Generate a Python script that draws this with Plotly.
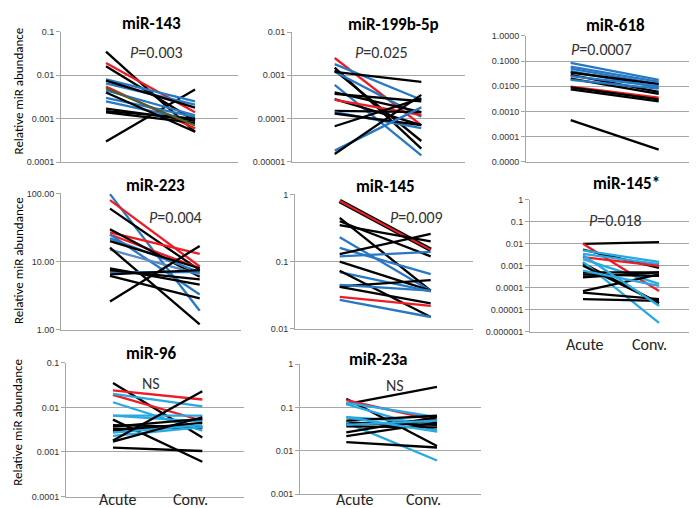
import math
import plotly.graph_objects as go

W, H = 697, 508
categories = ["Acute", "Conv."]

# ---- data ----
titles = ["miR-143", "miR-199b-5p", "miR-618", "miR-223", "miR-145", "miR-145*", "miR-96", "miR-23a"]
pvals = ["<i>P</i>=0.003", "<i>P</i>=0.025", "<i>P</i>=0.0007", "<i>P</i>=0.004",
         "<i>P</i>=0.009", "<i>P</i>=0.018", "NS", "NS"]

mir143_acute = [0.035, 0.016, 0.019, 0.0055, 0.0003, 0.008, 0.0065, 0.0075, 0.0045, 0.003, 0.0025, 0.004, 0.0017, 0.0015, 0.0014, 0.005]
mir143_conv = [0.0005, 0.0009, 0.0014, 0.0006, 0.0047, 0.0025, 0.0021, 0.0018, 0.0012, 0.0011, 0.0009, 0.0005, 0.0009, 0.001, 0.0008, 0.0007]
mir143_grp = ["K", "K", "R", "R", "K", "B", "B", "K", "B", "B", "B", "K", "K", "K", "K", "G"]

mir199_acute = [0.0025, 0.0018, 0.0015, 0.0013, 0.0012, 0.0012, 0.0006, 0.0004, 0.00037, 0.00028, 0.00027, 0.00015, 0.00014, 0.00013, 0.000066, 0.000018, 0.000015]
mir199_conv = [0.00007, 0.00027, 0.00002, 0.00003, 0.00011, 0.0007, 0.000014, 0.00014, 0.00025, 0.00007, 0.00012, 0.00014, 0.00006, 0.00007, 0.00029, 0.00018, 0.00035]
mir199_grp = ["R", "B", "K", "K", "B", "K", "B", "K", "K", "K", "R", "K", "B", "K", "K", "B", "K"]

mir618_acute = [0.085, 0.06, 0.05, 0.04, 0.035, 0.028, 0.025, 0.02, 0.018, 0.0095, 0.009, 0.0075, 0.00045]
mir618_conv = [0.018, 0.015, 0.012, 0.009, 0.012, 0.006, 0.01, 0.005, 0.008, 0.0035, 0.003, 0.0025, 0.00003]
mir618_grp = ["B", "B", "B", "B", "K", "K", "B", "K", "B", "R", "K", "K", "K"]

mir223_acute = [98, 80, 60, 27, 25, 30, 25, 22, 20, 15, 16, 8, 7, 6.5, 6.2, 2.6, 7.5]
mir223_conv = [1.9, 8.5, 7.5, 13, 8, 6, 3.3, 7, 8, 6.5, 1.2, 4.6, 7, 7.5, 2.9, 17, 5.5]
mir223_grp = ["B", "R", "K", "R", "R", "K", "B", "B", "K", "S", "K", "K", "B", "K", "K", "K", "K"]

mir145_acute = [0.8, 0.45, 0.35, 0.4, 0.23, 0.16, 0.13, 0.12, 0.1, 0.07, 0.073, 0.043, 0.045, 0.042, 0.03, 0.027]
mir145_conv = [0.15, 0.037, 0.2, 0.12, 0.037, 0.065, 0.26, 0.14, 0.037, 0.036, 0.015, 0.053, 0.037, 0.024, 0.022, 0.015]
mir145_grp = ["D", "K", "K", "K", "B", "B", "K", "B", "K", "B", "K", "K", "B", "K", "R", "B"]

mir145s_acute = [0.01, 0.01, 0.0055, 0.005, 0.0035, 0.0025, 0.002, 0.0013, 0.0015, 0.001, 0.0005, 0.0004, 0.0003, 0.00007, 0.00006, 0.00003, 0.003, 0.0006]
mir145s_conv = [0.012, 0.00007, 0.0008, 0.0015, 0.0012, 0.001, 0.00015, 0.00002, 0.0000025, 0.00002, 0.0005, 0.00035, 0.0005, 0.0004, 0.00003, 0.000025, 0.000015, 0.00012]
mir145s_grp = ["K", "R", "K", "C", "C", "R", "C", "K", "C", "K", "K", "K", "K", "K", "K", "K", "C", "C"]

mir96_acute = [0.035, 0.024, 0.019, 0.02, 0.013, 0.0065, 0.0065, 0.0053, 0.004, 0.0037, 0.0033, 0.003, 0.0027, 0.0023, 0.0018, 0.0017, 0.00125]
mir96_conv = [0.0021, 0.015, 0.005, 0.0105, 0.003, 0.0065, 0.0048, 0.0006, 0.0036, 0.0055, 0.0035, 0.0045, 0.004, 0.0036, 0.023, 0.006, 0.00105]
mir96_grp = ["K", "R", "R", "C", "C", "C", "C", "K", "K", "K", "K", "K", "C", "C", "K", "K", "K"]

mir23a_acute = [0.12, 0.16, 0.15, 0.13, 0.12, 0.06, 0.05, 0.045, 0.045, 0.04, 0.037, 0.027, 0.022, 0.016, 0.04, 0.06]
mir23a_conv = [0.3, 0.013, 0.05, 0.06, 0.03, 0.045, 0.065, 0.04, 0.006, 0.05, 0.035, 0.06, 0.045, 0.012, 0.05, 0.028]
mir23a_grp = ["K", "K", "R", "C", "C", "C", "K", "K", "C", "K", "K", "K", "K", "K", "C", "C"]

ytick_vals = [
    [0.0001, 0.001, 0.01, 0.1],
    [0.00001, 0.0001, 0.001, 0.01],
    [0.00001, 0.0001, 0.001, 0.01, 0.1, 1],
    [1, 10, 100],
    [0.01, 0.1, 1],
    [0.000001, 0.00001, 0.0001, 0.001, 0.01, 0.1, 1],
    [0.0001, 0.001, 0.01, 0.1],
    [0.001, 0.01, 0.1, 1],
]
ytick_text = [
    ["0.0001", "0.001", "0.01", "0.1"],
    ["0.00001", "0.0001", "0.001", "0.01"],
    ["0.0000", "0.0001", "0.0010", "0.0100", "0.1000", "1.0000"],
    ["1.00", "10.00", "100.00"],
    ["0.01", "0.1", "1"],
    ["0.000001", "0.00001", "0.0001", "0.001", "0.01", "0.1", "1"],
    ["0.0001", "0.001", "0.01", "0.1"],
    ["0.001", "0.01", "0.1", "1"],
]

panels_data = [
    (mir143_acute, mir143_conv, mir143_grp),
    (mir199_acute, mir199_conv, mir199_grp),
    (mir618_acute, mir618_conv, mir618_grp),
    (mir223_acute, mir223_conv, mir223_grp),
    (mir145_acute, mir145_conv, mir145_grp),
    (mir145s_acute, mir145s_conv, mir145s_grp),
    (mir96_acute, mir96_conv, mir96_grp),
    (mir23a_acute, mir23a_conv, mir23a_grp),
]

# ---- layout geometry (pixels) ----
# L, R, T, B, acute_x, conv_x
geom = [
    (53, 230, 19, 152.3, 98, 187),
    (284, 457, 19.3, 151.7, 326.7, 413.3),
    (518, 697, 23.3, 151.7, 562.7, 650.7),
    (53, 233, 184, 323.3, 102, 191.7),
    (287, 465, 185, 322.3, 331.7, 422.7),
    (522, 697, 190.7, 325, 575, 651),
    (58, 236, 356.7, 493.3, 105, 194.3),
    (292, 473, 358.3, 491, 338.3, 429),
]
title_pos = [(143, 11), (385, 12), (607, 13), (147, 176), (377, 177), (618, 174), (143, 347), (370, 353)]
pval_pos = [(148, 40), (373, 40), (593, 37), (167, 209), (408, 209), (607, 212), (143, 378), (387, 380)]
# x category label positions (pixel center x, pixel bottom y) for the bottom panels
xlabel_pos = {5: [(577, 349), (641, 349)], 6: [(110, 507), (182, 507)], 7: [(347, 507), (415, 507)]}

colors = {"K": "#000000", "R": "#ee1c24", "B": "#2878c3", "C": "#29a9e1",
          "G": "#4f6228", "S": "#5b8ac6"}

FONT = "Liberation Sans, Arial, sans-serif"
TFONT = "Carlito, Lato, sans-serif"
GRID = "#a6a6a6"

fig = go.Figure()
layout = {}
annotations = []

for i, ((acute, conv, grp), (L, R, T, B, A, C)) in enumerate(zip(panels_data, geom)):
    n = "" if i == 0 else str(i + 1)
    xref, yref = "x" + n, "y" + n
    for a, c, g in zip(acute, conv, grp):
        if g == "D":
            fig.add_trace(go.Scatter(x=categories, y=[a, c], mode="lines",
                                     line=dict(color="#000000", width=4.5),
                                     xaxis=xref, yaxis=yref, showlegend=False, hoverinfo="skip"))
            fig.add_trace(go.Scatter(x=categories, y=[a, c], mode="lines",
                                     line=dict(color=colors["R"], width=2),
                                     xaxis=xref, yaxis=yref, showlegend=False, hoverinfo="skip"))
        else:
            fig.add_trace(go.Scatter(x=categories, y=[a, c], mode="lines",
                                     line=dict(color=colors[g], width=2.3),
                                     xaxis=xref, yaxis=yref, showlegend=False, hoverinfo="skip"))
    span = C - A
    xr = [(L - A) / span, (R - A) / span]
    tv = ytick_vals[i]
    lo, hi = math.log10(min(tv)), math.log10(max(tv))
    layout["xaxis" + n] = dict(
        domain=[L / W, R / W], anchor=yref, type="category", range=xr,
        showgrid=False, zeroline=False, showline=True, linecolor=GRID, linewidth=1,
        showticklabels=False, ticks="",
    )
    layout["yaxis" + n] = dict(
        domain=[1 - B / H, 1 - T / H], anchor=xref, type="log",
        range=[lo - 0.002, hi + 0.002],
        tickvals=tv, ticktext=ytick_text[i],
        showgrid=True, gridcolor=GRID, gridwidth=1,
        showline=True, linecolor=GRID, linewidth=1,
        ticks="outside", ticklen=4, tickcolor=GRID,
        zeroline=False,
        tickfont=dict(family=FONT, size=9, color="#333"),
    )
    tx, ty = title_pos[i]
    annotations.append(dict(text="<b>" + titles[i] + "</b>", x=tx / W, y=1 - ty / H,
                            xref="paper", yref="paper", showarrow=False,
                            xanchor="center", yanchor="middle",
                            font=dict(family=TFONT, size=17, color="#000")))
    px_, py_ = pval_pos[i]
    annotations.append(dict(text=pvals[i], x=px_ / W, y=1 - py_ / H,
                            xref="paper", yref="paper", showarrow=False,
                            xanchor="center", yanchor="middle",
                            font=dict(family=TFONT, size=16, color="#333")))
    if i in xlabel_pos:
        for lab, (lx, ly) in zip(categories, xlabel_pos[i]):
            annotations.append(dict(text=lab, x=lx / W, y=1 - ly / H,
                                    xref="paper", yref="paper", showarrow=False,
                                    xanchor="center", yanchor="bottom", borderpad=0,
                                    font=dict(family=TFONT, size=16, color="#222")))

for yc in [80, 253, 418]:
    annotations.append(dict(text="Relative miR abundance", x=10 / W, y=1 - yc / H,
                            xref="paper", yref="paper", showarrow=False, textangle=-90,
                            xanchor="center", yanchor="middle",
                            font=dict(family=TFONT, size=13, color="#000")))

fig.update_layout(
    width=W, height=H, margin=dict(l=0, r=0, t=0, b=0),
    paper_bgcolor="white", plot_bgcolor="white",
    annotations=annotations, showlegend=False, **layout,
)

fig.write_html("out.html")
